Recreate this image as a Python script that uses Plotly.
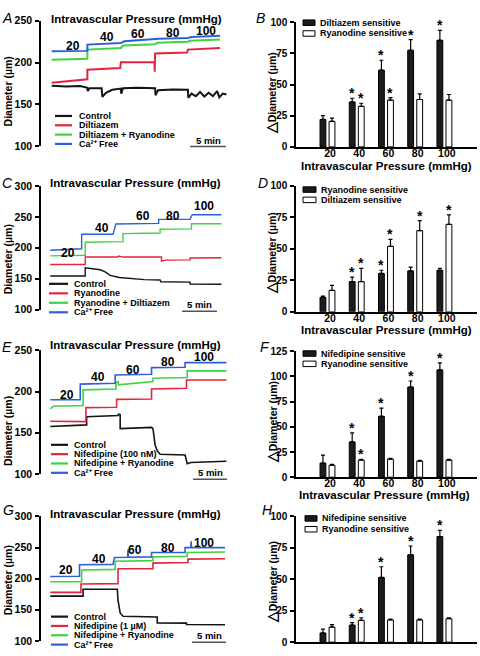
import plotly.graph_objects as go

FIG_W, FIG_H = 480, 656
FONT = "Liberation Sans, Arial, Helvetica, sans-serif"

# ------------------------------------------------------------------ data
PRESSURE_LABELS = ["20", "40", "60", "80", "100"]
PRESSURE_INDEX = [0, 1, 2, 3, 4]

# Panel A (time in min, diameter in um)
A_CONTROL_T = [0, 2, 4, 5.0, 5.05, 5.3, 7.0, 7.1, 7.6, 8.5, 9.7, 9.75, 10.0, 12, 14.5, 14.55, 14.9, 17,
               19.1, 19.15, 19.6, 20.2, 20.8, 21.4, 22.0, 22.6, 23.2, 23.5, 24.0, 24.5]
A_CONTROL = [172.5, 171.5, 172, 170, 166, 169.5, 169.5, 159, 164, 167.5, 169, 163, 169.5, 170, 169.5, 161, 167, 168,
             167.5, 158, 163, 160, 165, 159.5, 164, 160, 166, 158.5, 163, 162]
A_DRUG1_T = [0, 5.0, 5.0, 9.6, 9.7, 14.4, 14.45, 14.5, 19.0, 19.1, 23.6]
A_DRUG1 = [176, 180, 191.5, 193.5, 200.5, 200.5, 189, 211, 212, 215.5, 217.5]
A_DRUG2_T = [0, 5.0, 5.0, 9.7, 10.0, 14.5, 14.8, 19.1, 19.4, 23.6]
A_DRUG2 = [203.5, 204.5, 215.5, 217.5, 220.5, 222, 223.8, 225, 226, 227.5]
A_CAFREE_T = [0, 5.0, 5.0, 9.7, 10.2, 14.5, 15.0, 19.1, 19.6, 23.6]
A_CAFREE = [213.5, 214, 221.5, 223.5, 225.5, 227.5, 228.5, 229.5, 230.5, 232]

# Panel C
C_CONTROL_T = [-0.2, 4.7, 4.7, 5.5, 6.8, 7.5, 8.2, 9.5, 11.4, 12.0, 13.0, 15.2, 15.3, 19.4, 19.4, 23.8]
C_CONTROL = [154.5, 154.5, 167.5, 166, 164.5, 161, 155.5, 152, 150, 149, 148.5, 148, 145, 144.5, 141.5, 141]
C_DRUG1_T = [-0.2, 4.7, 4.7, 9.3, 9.4, 10.0, 15.4, 15.4, 16.0, 19.4, 19.4, 23.8]
C_DRUG1 = [173, 173, 185, 185, 186.5, 185, 185, 178.5, 180, 180.5, 183.5, 184]
C_DRUG2_T = [-0.2, 4.7, 4.7, 10.0, 10.0, 15.2, 15.2, 19.6, 19.6, 23.8]
C_DRUG2 = [187, 188, 209, 210, 223, 224, 230, 230.5, 239, 239]
C_CAFREE_T = [-0.2, 4.2, 4.2, 8.6, 9.0, 15.0, 15.0, 19.4, 19.7, 23.8]
C_CAFREE = [196, 198.5, 222, 222, 238.5, 239.5, 246, 246, 253.5, 253.5]

# Panel E
E_CONTROL_T = [-0.2, 3.0, 4.9, 4.9, 8.9, 9.3, 9.35, 9.6, 9.6, 14.0, 14.2, 14.5, 14.8, 15.2, 18.7, 18.9, 19.0, 19.5, 24.5]
E_CONTROL = [157.5, 159, 159.5, 169.5, 170.5, 171, 172.5, 172, 155, 156.5, 155, 135, 128, 124, 123, 116, 112.5, 114, 115.5]
E_DRUG1_T = [-0.2, 4.8, 4.8, 9.1, 9.1, 14.0, 14.0, 18.9, 18.9, 24.5]
E_DRUG1 = [164, 163.5, 180.5, 181, 190.5, 191, 203, 204, 214, 214]
E_DRUG2_T = [-0.2, 0.3, 2.0, 4.4, 4.4, 9.0, 9.0, 9.3, 9.35, 14.2, 14.2, 19.0, 19.0, 24.5]
E_DRUG2 = [179, 182.5, 182.5, 183, 202, 203, 211, 212, 208, 212, 216, 217, 225, 225]
E_CAFREE_T = [-0.2, 4.0, 4.0, 8.9, 8.9, 14.0, 14.0, 18.7, 18.7, 24.5]
E_CAFREE = [190, 190, 209, 210, 220, 221, 229, 229.5, 235, 235]

# Panel G
G_CONTROL_T = [-0.2, 4.4, 4.4, 9.2, 9.3, 9.6, 10.0, 14.8, 14.8, 18.9, 18.9, 24.3]
G_CONTROL = [172, 172, 183, 183, 165, 145, 139.5, 138.5, 129, 128.5, 126.3, 126]
G_DRUG1_T = [-0.2, 4.1, 4.1, 9.3, 9.3, 14.2, 14.2, 19.1, 19.1, 24.3]
G_DRUG1 = [178, 178, 191.5, 192, 216, 216, 225, 226, 231.5, 232]
G_DRUG2_T = [-0.2, 4.2, 4.2, 8.9, 8.9, 14.2, 14.2, 19.0, 19.0, 24.3]
G_DRUG2 = [195, 195, 214, 215, 228, 229, 235, 236, 242, 243]
G_CAFREE_T = [-0.2, 3.9, 3.9, 8.6, 8.8, 10.65, 10.7, 10.75, 14.0, 14.0, 18.7, 18.7, 19.5, 19.55, 19.6, 24.3]
G_CAFREE = [203.5, 204, 222.5, 223, 234, 234.5, 247, 234.5, 235, 242, 242, 250, 250, 260, 250, 250]

# Bar panels: mean, SEM, significance
B_DIL = [22, 36, 61.5, 77.5, 85.5]
B_DIL_ERR = [3, 3, 8, 8.5, 8]
B_DIL_SIG = [False, True, True, True, True]
B_RYA = [20.5, 32.5, 37.5, 38, 37.5]
B_RYA_ERR = [2.5, 2.5, 2, 4.5, 4.5]
B_RYA_SIG = [False, True, True, False, False]

D_RYA = [11.5, 24, 30.5, 32.5, 33]
D_RYA_ERR = [1, 3.5, 2.5, 3, 1.5]
D_RYA_SIG = [False, True, True, False, False]
D_DIL = [17, 24, 52, 64.5, 69.5]
D_DIL_ERR = [4, 10.5, 5.5, 8, 7.5]
D_DIL_SIG = [False, True, True, True, True]

F_NIF = [14, 35, 60.5, 89.5, 106.5]
F_NIF_ERR = [8, 9, 8, 6, 7]
F_NIF_SIG = [False, True, True, True, True]
F_RYA = [12, 17, 18, 16, 17]
F_RYA_ERR = [0.7, 0.7, 0.7, 0.7, 0.7]
F_RYA_SIG = [False, True, False, False, False]

H_NIF = [7.3, 13.5, 51.5, 69.5, 84]
H_NIF_ERR = [3, 2, 8.5, 7, 5]
H_NIF_SIG = [False, True, True, True, True]
H_RYA = [12, 17.4, 17.7, 17.7, 18.7]
H_RYA_ERR = [2, 2, 0.7, 0.7, 0.7]
H_RYA_SIG = [False, True, False, False, False]

# ------------------------------------------------------------------ style
C_BLACK = "#141414"
C_RED = "#e4253d"
C_GREEN = "#3dd43d"
C_BLUE = "#2c5fdc"
BAR_DARK = "#1c1c1c"


def fx(px):
    return px / FIG_W


def fy(py):
    return 1 - py / FIG_H


def font(size, bold=True, italic=False, color="black"):
    d = dict(family=FONT, size=size, color=color)
    if bold:
        d["weight"] = "bold"
    if italic:
        d["style"] = "italic"
    return d


fig = go.Figure()
axes = {}
annotations = []
shapes = []


def ax_names(n):
    return ("xaxis" if n == 1 else f"xaxis{n}",
            "yaxis" if n == 1 else f"yaxis{n}",
            "x" if n == 1 else f"x{n}",
            "y" if n == 1 else f"y{n}")


def y_axis_cfg(rng, tickvals, dom, fsize):
    return dict(domain=dom, range=rng, tickvals=tickvals, ticks="outside", ticklen=4, tickwidth=1.5,
                tickcolor="black", showline=True, linewidth=1.5, linecolor="black", showgrid=False,
                zeroline=False, tickfont=font(fsize), ticklabelstandoff=1, fixedrange=True)


def add_text(text, x, y, size, bold=True, italic=False, xanchor="center", yanchor="middle", angle=0):
    annotations.append(dict(text=text, x=fx(x), y=fy(y), xref="paper", yref="paper", showarrow=False,
                            xanchor=xanchor, yanchor=yanchor, textangle=angle,
                            font=font(size, bold, italic)))


CA_FREE = "Ca²⁺ Free"

# ------------------------------------------------------------------ line panels
LINE_X_DOMAIN = [41, 230]
LINE_T_RANGE = [-1.5, 25.0]

LINE_PANELS = [
    dict(n=1, letter="A", letter_pos=(7, 12), top=15, bottom=143, yrange=[100, 250], yticks=[100, 150, 200, 250],
         series=[(A_CONTROL_T, A_CONTROL, C_BLACK), (A_DRUG1_T, A_DRUG1, C_RED),
                 (A_DRUG2_T, A_DRUG2, C_GREEN), (A_CAFREE_T, A_CAFREE, C_BLUE)],
         names=["Control", "Diltiazem", "Diltiazem + Ryanodine", CA_FREE],
         title_pos=(136, 13), ytitle_y=87,
         plabels=[(73, 41), (107, 32), (138, 29), (173, 27), (206, 25)],
         legend=(55, 72, 77, [112, 121.5, 131, 140.5]), scalebar=(190, 226, 143, 136.5), lw=2.0),
    dict(n=2, letter="C", letter_pos=(7, 180), top=183.3, bottom=309.3, yrange=[100, 300],
         yticks=[100, 150, 200, 250, 300],
         series=[(C_CONTROL_T, C_CONTROL, C_BLACK), (C_DRUG1_T, C_DRUG1, C_RED),
                 (C_DRUG2_T, C_DRUG2, C_GREEN), (C_CAFREE_T, C_CAFREE, C_BLUE)],
         names=["Control", "Ryanodine", "Ryanodine + Diltiazem", CA_FREE],
         title_pos=(135, 180), ytitle_y=258,
         plabels=[(68, 252), (102, 226), (143, 214), (173, 214), (204, 204)],
         legend=(49, 68, 72, [283, 292.7, 302.3, 312]), scalebar=(182, 217, 311, 304), lw=1.4),
    dict(n=3, letter="E", letter_pos=(7, 347), top=350.7, bottom=476.7, yrange=[100, 250],
         yticks=[100, 150, 200, 250],
         series=[(E_CONTROL_T, E_CONTROL, C_BLACK), (E_DRUG1_T, E_DRUG1, C_RED),
                 (E_DRUG2_T, E_DRUG2, C_GREEN), (E_CAFREE_T, E_CAFREE, C_BLUE)],
         names=["Control", "Nifedipine (100 nM)", "Nifedipine + Ryanodine", CA_FREE],
         title_pos=(135, 345), ytitle_y=433,
         plabels=[(67, 396), (98, 378), (133, 371), (168, 363), (204, 358)],
         legend=(51, 68, 72, [447, 456.5, 466, 475.5]), scalebar=(193, 227, 482, 475), lw=1.6),
    dict(n=4, letter="G", letter_pos=(8, 513), top=520, bottom=646.7, yrange=[100, 300],
         yticks=[100, 150, 200, 250, 300],
         series=[(G_CONTROL_T, G_CONTROL, C_BLACK), (G_DRUG1_T, G_DRUG1, C_RED),
                 (G_DRUG2_T, G_DRUG2, C_GREEN), (G_CAFREE_T, G_CAFREE, C_BLUE)],
         names=["Control", "Nifedipine (1 µM)", "Nifedipine + Ryanodine", CA_FREE],
         title_pos=(135, 517), ytitle_y=585,
         plabels=[(66, 575), (99, 563), (135, 554), (168, 552), (204, 547)],
         legend=(51, 68, 72, [622, 631.5, 641, 650.5]), scalebar=(192, 226, 648, 641), lw=1.6),
]

for p in LINE_PANELS:
    xname, yname, xr, yr = ax_names(p["n"])
    axes[xname] = dict(domain=[fx(LINE_X_DOMAIN[0]), fx(LINE_X_DOMAIN[1])], range=LINE_T_RANGE,
                       anchor=yr, visible=False, fixedrange=True)
    axes[yname] = y_axis_cfg(p["yrange"], p["yticks"], [fy(p["bottom"]), fy(p["top"])], 10.5)
    axes[yname]["anchor"] = xr
    for (t, v, col) in p["series"]:
        fig.add_trace(go.Scatter(x=t, y=v, mode="lines", line=dict(color=col, width=p["lw"]),
                                 xaxis=xr, yaxis=yr, showlegend=False, hoverinfo="skip"))
    add_text(p["letter"], *p["letter_pos"], 14, bold=False, italic=True)
    add_text("Intravascular Pressure (mmHg)", *p["title_pos"], 11.5)
    add_text("Diameter (µm)", 8, p["ytitle_y"], 10.5, angle=-90)
    for lab, (x, y) in zip(PRESSURE_LABELS, p["plabels"]):
        add_text(lab, x, y, 12)
    lx0, lx1, ltx, lys = p["legend"]
    for (t, v, col), name, ly in zip(p["series"], p["names"], lys):
        shapes.append(dict(type="line", xref="paper", yref="paper", x0=fx(lx0), x1=fx(lx1), y0=fy(ly), y1=fy(ly),
                           line=dict(color=col, width=2.2)))
        add_text(name, ltx, ly, 9, xanchor="left")
    sx0, sx1, sy, sty = p["scalebar"]
    shapes.append(dict(type="line", xref="paper", yref="paper", x0=fx(sx0), x1=fx(sx1), y0=fy(sy), y1=fy(sy),
                       line=dict(color="#555555", width=1.5)))
    add_text("5 min", (sx0 + sx1) / 2, sty, 9.5)

# ------------------------------------------------------------------ bar panels
BAR_X_DOMAIN = [296, 477]
BAR_X_RANGE = [-1.162, 5.03]
DARK_OFFSET, LIGHT_OFFSET, BAR_W = -0.34, -0.03, 0.2

BAR_PANELS = [
    dict(n=5, letter="B", letter_pos=(260, 12), top=16.5, bottom=143.5, yrange=[0, 100],
         yticks=[0, 25, 50, 75, 100],
         dark=(B_DIL, B_DIL_ERR, B_DIL_SIG, "Diltiazem sensitive"),
         light=(B_RYA, B_RYA_ERR, B_RYA_SIG, "Ryanodine sensitive"),
         legend=(303, 315, 318, [17, 28]), ytitle=(271, 89), xtitle=(386, 162.5), xlabels=True, standoff=-4),
    dict(n=6, letter="D", letter_pos=(263, 180), top=183.3, bottom=311.5, yrange=[0, 100],
         yticks=[0, 25, 50, 75, 100],
         dark=(D_RYA, D_RYA_ERR, D_RYA_SIG, "Ryanodine sensitive"),
         light=(D_DIL, D_DIL_ERR, D_DIL_SIG, "Diltiazem sensitive"),
         legend=(303, 316, 319, [187, 197.5]), ytitle=(271, 252), xtitle=(386, 330.5), xlabels=True, standoff=-4),
    dict(n=7, letter="F", letter_pos=(265, 347), top=351.7, bottom=480, yrange=[0, 125],
         yticks=[0, 25, 50, 75, 100, 125],
         dark=(F_NIF, F_NIF_ERR, F_NIF_SIG, "Nifedipine sensitive"),
         light=(F_RYA, F_RYA_ERR, F_RYA_SIG, "Ryanodine sensitive"),
         legend=(303, 316, 319, [354, 364.5]), ytitle=(272, 424), xtitle=(384, 498), xlabels=True, standoff=-5),
    dict(n=8, letter="H", letter_pos=(267, 513), top=520, bottom=648, yrange=[0, 100],
         yticks=[0, 25, 50, 75, 100],
         dark=(H_NIF, H_NIF_ERR, H_NIF_SIG, "Nifedipine sensitive"),
         light=(H_RYA, H_RYA_ERR, H_RYA_SIG, "Ryanodine sensitive"),
         legend=(305, 317, 320, [522, 533]), ytitle=(272, 587), xtitle=None, xlabels=False, standoff=-4),
]

for p in BAR_PANELS:
    xname, yname, xr, yr = ax_names(p["n"])
    axes[xname] = dict(domain=[fx(BAR_X_DOMAIN[0]), fx(BAR_X_DOMAIN[1])], range=BAR_X_RANGE, anchor=yr,
                       tickvals=PRESSURE_INDEX, ticktext=PRESSURE_LABELS, ticks="", showline=True,
                       linewidth=1.5, linecolor="black", showgrid=False, zeroline=False,
                       showticklabels=p["xlabels"], ticklabelstandoff=p["standoff"],
                       tickfont=font(10.5), fixedrange=True)
    axes[yname] = y_axis_cfg(p["yrange"], p["yticks"], [fy(p["bottom"]), fy(p["top"])], 10)
    axes[yname]["anchor"] = xr
    for (vals, errs, sig, name), off, fill in ((p["dark"], DARK_OFFSET, BAR_DARK),
                                                (p["light"], LIGHT_OFFSET, "white")):
        fig.add_trace(go.Bar(x=PRESSURE_INDEX, y=vals, width=BAR_W, offset=off,
                             marker=dict(color=fill, line=dict(color="black", width=1)),
                             error_y=dict(type="data", array=errs, arrayminus=[0] * len(errs), symmetric=False,
                                          color="black", thickness=1.2, width=2),
                             xaxis=xr, yaxis=yr, showlegend=False, hoverinfo="skip"))
        for i, v, e, s in zip(PRESSURE_INDEX, vals, errs, sig):
            if s:
                annotations.append(dict(text="*", x=i + off + BAR_W / 2, y=v + e, xref=xr, yref=yr,
                                        showarrow=False, xanchor="center", yanchor="middle", yshift=5,
                                        font=font(14)))
    add_text(p["letter"], *p["letter_pos"], 14, bold=False, italic=True)
    add_text("<span style='font-size:14px'>△</span>Diameter (µm)", *p["ytitle"], 10.5, angle=-90)
    if p["xtitle"]:
        add_text("Intravascular Pressure (mmHg)", *p["xtitle"], 11.5)
    bx0, bx1, btx, bys = p["legend"]
    for (vals, errs, sig, name), fill, ly in ((p["dark"], BAR_DARK, bys[0]), (p["light"], "white", bys[1])):
        shapes.append(dict(type="rect", xref="paper", yref="paper", x0=fx(bx0), x1=fx(bx1),
                           y0=fy(ly + 2.8), y1=fy(ly - 2.8), fillcolor=fill,
                           line=dict(color="black", width=1)))
        add_text(name, btx, ly, 9, xanchor="left")

fig.update_layout(width=FIG_W, height=FIG_H, margin=dict(l=0, r=0, t=0, b=0), paper_bgcolor="white",
                  plot_bgcolor="rgba(0,0,0,0)", showlegend=False, barmode="overlay",
                  annotations=annotations, shapes=shapes, **axes)

fig.write_html("out.html", config={"displayModeBar": False},
               post_script="document.body.style.margin='0';document.body.style.overflow='hidden';")
